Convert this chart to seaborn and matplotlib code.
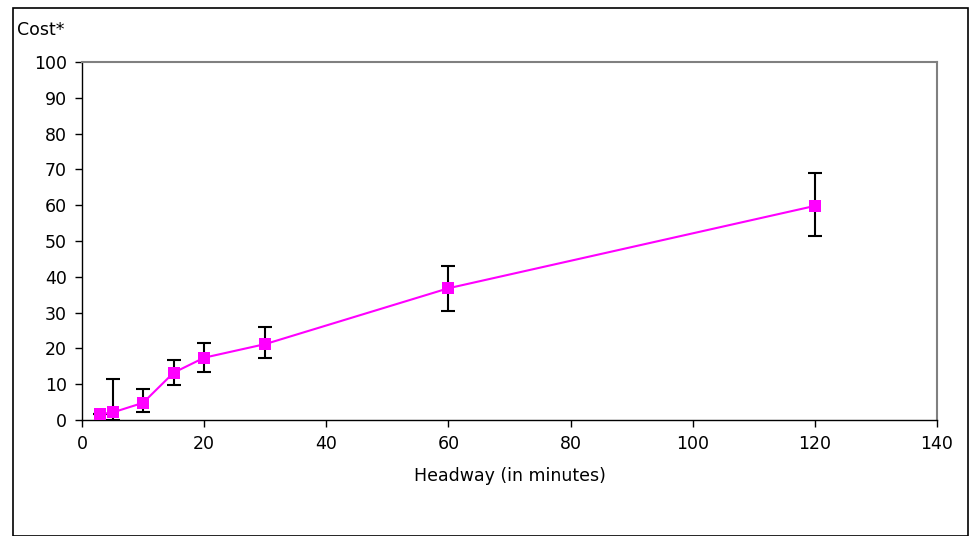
import matplotlib
matplotlib.use("Agg")
import matplotlib.pyplot as plt
import numpy as np
import pandas as pd
import seaborn as sns
from matplotlib.patches import Rectangle

# Valores
headway = [3, 5, 10, 15, 20, 30, 60, 120]
cost = [1.6, 2.1, 4.8, 13.2, 17.4, 21.2, 36.8, 59.8]
cost_hi = [1.6, 11.4, 8.6, 16.7, 21.4, 25.9, 43.0, 69.1]
cost_lo = [1.6, 0.0, 2.3, 9.8, 13.5, 17.2, 30.5, 51.4]

df = pd.DataFrame({"headway": headway, "cost": cost})

sns.set_style("white")
plt.rcParams["font.family"] = ["DejaVu Sans"]
plt.rcParams["text.color"] = "black"
plt.rcParams["axes.labelcolor"] = "black"

fig = plt.figure(figsize=(9.7, 5.36), dpi=100)
ax = fig.add_axes([0.0845, 0.2164, 0.8815, 0.668])

yerr = np.array([np.array(cost) - np.array(cost_lo), np.array(cost_hi) - np.array(cost)])
ax.errorbar(headway, cost, yerr=yerr, fmt="none", ecolor="black",
            elinewidth=1.5, capsize=5, capthick=1.5, zorder=2)
sns.lineplot(df, x="headway", y="cost", ax=ax, color="#FF00FF", linewidth=1.5,
             marker="s", markersize=9, markeredgewidth=0, zorder=3)

ax.set_xlim(0, 140)
ax.set_ylim(0, 100)
ax.set_xticks(range(0, 141, 20))
ax.set_yticks(range(0, 101, 10))
ax.tick_params(axis="both", direction="out", length=5, width=1, colors="black",
               labelsize=12.5, left=True, bottom=True, pad=6)
ax.set_xlabel("Headway (in minutes)", fontsize=12.5, labelpad=10, color="black")
ax.set_ylabel("")
for s in ("left", "bottom"):
    ax.spines[s].set_color("black")
    ax.spines[s].set_linewidth(1)
for s in ("top", "right"):
    ax.spines[s].set_color("#808080")
    ax.spines[s].set_linewidth(1.5)

fig.text(17 / 970, 1 - 30 / 536, "Cost*", fontsize=12.5, va="center", ha="left",
         color="black")
fig.patches.append(Rectangle((13 / 970, 0), 955 / 970, 1 - 8 / 536,
                             transform=fig.transFigure, fill=False,
                             edgecolor="black", linewidth=1.2))

fig.savefig("out.png", dpi=100)
